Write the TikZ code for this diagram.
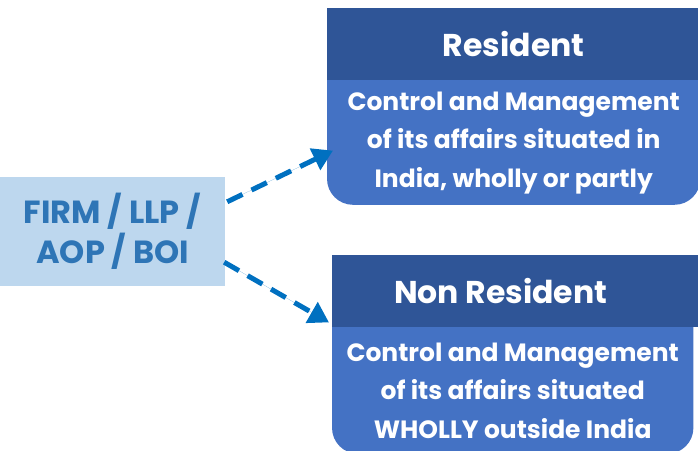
\documentclass[tikz,border=0pt]{standalone}
\usepackage{fontspec}
\setmainfont{Poppins}
\usetikzlibrary{positioning,arrows.meta,backgrounds}
\definecolor{headcolor}{RGB}{47,85,151}
\definecolor{bodycolor}{RGB}{68,114,196}
\definecolor{firmcolor}{RGB}{189,215,238}
\definecolor{namecolor}{RGB}{46,117,182}
\definecolor{linkcolor}{RGB}{0,112,192}

\begin{document}
\begin{tikzpicture}[%
    x=1pt, y=-1pt,                           % work in pixels of the slide
    >={Triangle[length=20pt,width=23pt]},    % big filled heads
    node distance=0pt,                       % body sits right under its head
    ]
\tikzset{
  firm/.style={rectangle, fill=firmcolor, text=namecolor, align=center, inner sep=0pt,
    minimum width=225pt, minimum height=109pt, font=\fontsize{32}{40}\selectfont\bfseries},
  head/.style={rectangle, fill=headcolor, text=white, inner sep=0pt, anchor=north west,
    minimum width=373pt, minimum height=72pt, font=\fontsize{31.5}{40}\selectfont\bfseries},
  body/.style={rectangle, text=white, align=center, inner sep=0pt,
    minimum width=373pt, font=\fontsize{25}{38.5}\selectfont\bfseries},
  back/.style={fill=bodycolor, rounded corners=26pt},
  link/.style={->, draw=linkcolor, fill=linkcolor, line width=5pt, dash pattern=on 17pt off 10pt},
}

\useasboundingbox (0,0) rectangle (698,450);

\node [firm] (firm) at (112.5,231.5) {FIRM / LLP /\\AOP / BOI};

\node [head] (reshead) at (327,8) {Resident};
\node [body, below=of reshead, minimum height=124pt] (resbody)
  {Control and Management\\of its affairs situated in\\India, wholly or partly};

\node [head] (nrhead) at (332,255) {Non Resident\hspace*{36pt}};
\node [body, below=of nrhead.south west, anchor=north west,
  minimum width=361pt, minimum height=126pt] (nrbody)
  {Control and Management\\of its affairs situated\\WHOLLY outside India};

\begin{scope}[on background layer]
\path [back] (reshead.north west) rectangle (resbody.south east);
\path [back] (nrhead.north west) rectangle (nrbody.south east);
\end{scope}

\draw [link] ([xshift=2pt,yshift=-25pt]firm.north east) -- ([xshift=6pt,yshift=-8pt]resbody.west);
\draw [link] ([xshift=-1pt,yshift=24pt]firm.south east) -- ([xshift=-3pt,yshift=5pt]nrhead.south west);

\end{tikzpicture}
\end{document}
